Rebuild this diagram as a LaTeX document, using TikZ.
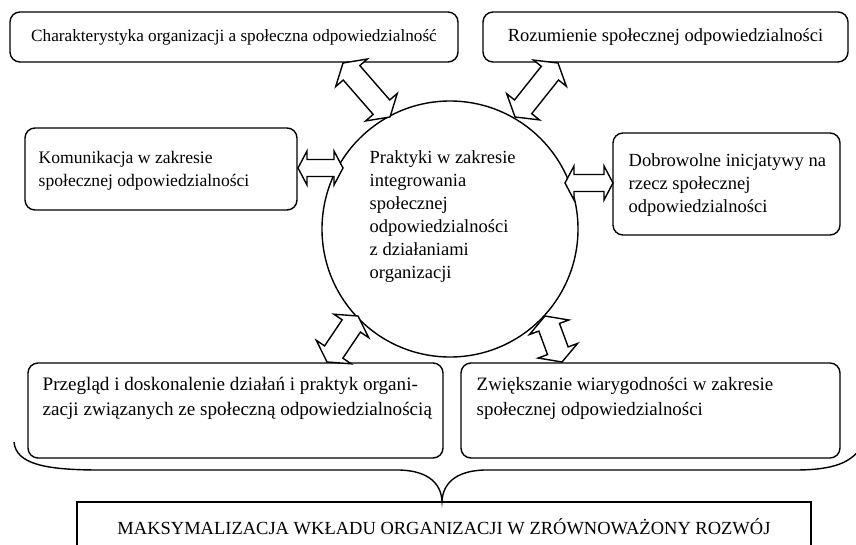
\documentclass[tikz,border=0pt]{standalone}
\usepackage{fontspec}
\setmainfont{Liberation Serif}
\usetikzlibrary{calc}
\tikzset{
  pics/dblarrow/.style n args={4}{code={%
    \draw[fill=white] (0,0) -- (#4,#3) -- (#4,#2) -- ({#1-#4},#2) -- ({#1-#4},#3) -- (#1,0)
      -- ({#1-#4},-#3) -- ({#1-#4},-#2) -- (#4,-#2) -- (#4,-#3) -- cycle;}},
}
\newcommand\dblarr[5]{%
  \path let \p1=($(#2)-(#1)$), \n1={atan2(\y1,\x1)}, \n2={veclen(\x1,\y1)} in
    pic[rotate=\n1] at (#1) {dblarrow={\n2}{#3}{#4}{#5}};}
\begin{document}
\begin{tikzpicture}[x=1pt,y=-1pt,line width=1.4pt,line join=miter,
  rbox/.style={draw,rounded corners=10pt,inner sep=0pt},
  sbox/.style={draw,inner sep=0pt},
  txt/.style={font=\fontsize{18.5}{23}\selectfont,inner sep=0pt,align=left},
]
\useasboundingbox (0,0) rectangle (856,544);
% boxes
\node[rbox,minimum width=448pt,minimum height=50pt] (tl) at (234,37) {};
\node[rbox,minimum width=365pt,minimum height=50pt] (tr) at (665.5,37) {};
\node[rbox,minimum width=272pt,minimum height=82pt] (ml) at (161,169) {};
\node[rbox,minimum width=227pt,minimum height=102pt] (mr) at (726.5,184) {};
\node[rbox,minimum width=415pt,minimum height=95pt] (bl) at (235.5,410.5) {};
\node[rbox,minimum width=379pt,minimum height=95pt] (br) at (650.5,410.5) {};
\node[draw,circle,minimum size=256pt,inner sep=0pt] (c) at (450,229) {};
\node[sbox,minimum width=734pt,minimum height=60pt] (mx) at (444,532) {};
% texts
\node[txt,font=\fontsize{17.2}{23}\selectfont] (tlt) at (tl.center) {Charakterystyka organizacji a społeczna odpowiedzialność};
\node[txt] (trt) at (tr.center) {Rozumienie społecznej odpowiedzialności};
\node[txt,font=\fontsize{17.6}{23}\selectfont,anchor=north west] (mlt) at (38,151) {Komunikacja w zakresie\\społecznej odpowiedzialności};
\node[txt,anchor=north west] (mrt) at (628,153) {Dobrowolne inicjatywy na\\rzecz społecznej\\odpowiedzialności};
\node[txt,anchor=north west] (ct) at (369,150) {Praktyki w zakresie\\integrowania\\społecznej\\odpowiedzialności\\z działaniami\\organizacji};
\node[txt,font=\fontsize{19.1}{24.5}\selectfont,anchor=north west] (blt) at (42,377) {Przegląd i doskonalenie działań i praktyk organi-\\zacji związanych ze społeczną odpowiedzialnością};
\node[txt,font=\fontsize{18.9}{24.5}\selectfont,anchor=north west] (brt) at (476,377) {Zwiększanie wiarygodności w zakresie\\społecznej odpowiedzialności};
\node[txt] (mxt) at (444,527) {MAKSYMALIZACJA WKŁADU ORGANIZACJI W ZRÓWNOWAŻONY ROZWÓJ};
% arrow end points
\coordinate (a1s) at (343,63);  \coordinate (a1e) at (390,117);
\coordinate (a2s) at (558,63);  \coordinate (a2e) at (515,117);
\coordinate (a3s) at (298,168); \coordinate (a3e) at (343,168);
\coordinate (a4s) at (565,183); \coordinate (a4e) at (613,183);
\coordinate (a5s) at (358,316); \coordinate (a5e) at (327,362);
\coordinate (a6s) at (545,316); \coordinate (a6e) at (562,362);
\dblarr{a1s}{a1e}{11}{21}{13}
\dblarr{a2s}{a2e}{11}{21}{13}
\dblarr{a3s}{a3e}{8.5}{17}{9}
\dblarr{a4s}{a4e}{8.5}{17}{9}
\dblarr{a5s}{a5e}{11}{21}{12}
\dblarr{a6s}{a6e}{11}{21}{12}
% brace
\coordinate (bL) at (14,442);
\coordinate (bT) at (442,501);
\coordinate (bR) at (862,446);
\draw (bL) .. controls (16,464) and (45,470) .. (100,470) -- (400,470)
  .. controls (429,471) and (441,484) .. (bT)
  .. controls (443,484) and (455,471) .. (484,470) -- (795,470)
  .. controls (835,470) and (852,462) .. (bR);
\end{tikzpicture}
\end{document}
